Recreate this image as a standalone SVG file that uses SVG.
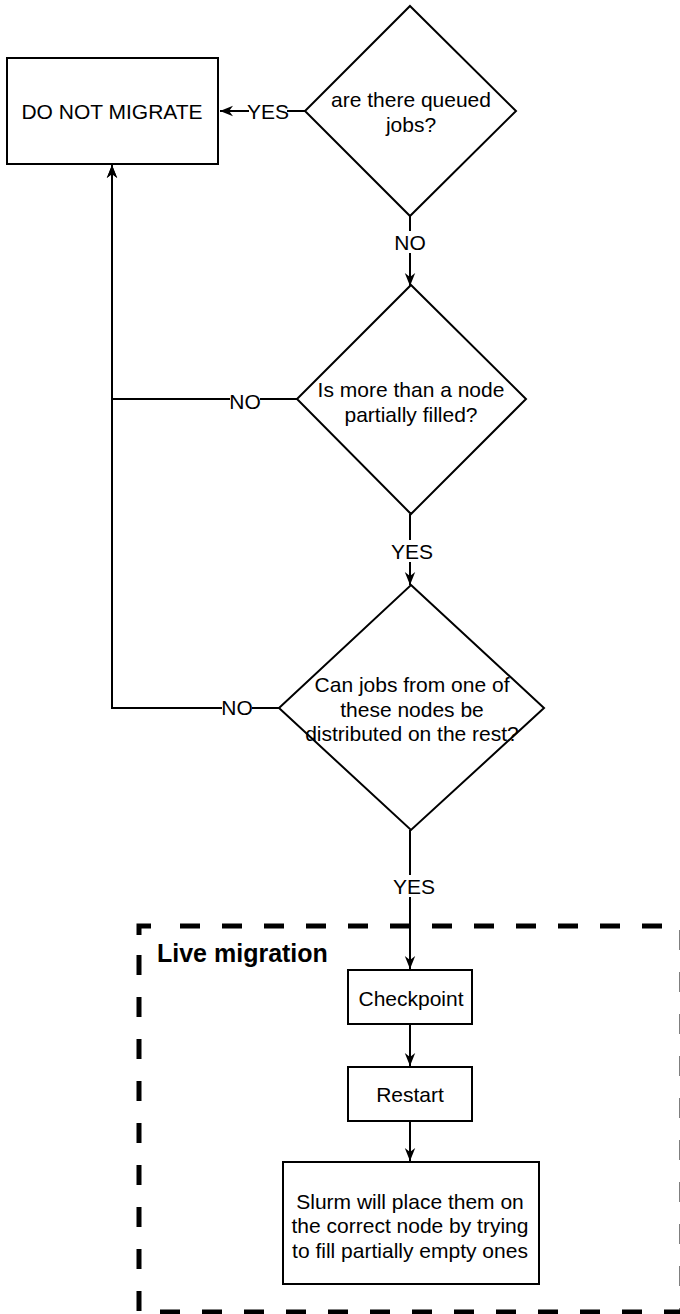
<svg xmlns="http://www.w3.org/2000/svg" width="680" height="1314" viewBox="0 0 680 1314">
<defs>
<style>
.shape{fill:#fff;stroke:#000;stroke-width:2}
.edge{fill:none;stroke:#000;stroke-width:2}
.t{font-family:"Liberation Sans",Arial,sans-serif;font-size:21px;fill:#000;text-anchor:middle}
.lbl{fill:#fff;stroke:none}
.dash{fill:none;stroke:#000;stroke-width:5;stroke-dasharray:20 22}
.title{font-family:"Liberation Sans",Arial,sans-serif;font-size:25px;font-weight:bold;fill:#000}
</style>
<marker id="arr" viewBox="0 0 10 10" refX="10" refY="5" markerWidth="13" markerHeight="13" markerUnits="userSpaceOnUse" orient="auto">
<path d="M0,1 L10,5 L0,9 L3,5 Z" fill="#000"/>
</marker>
</defs>

<g id="live-migration-group">
<path class="dash" d="M180 926 H682"/>
<path class="dash" d="M160 1312 H682"/>
<path class="dash" d="M682 930 V1314"/>
<path class="dash" d="M139 955 V1314"/>
<path d="M151 926 H139 V935" fill="none" stroke="#000" stroke-width="5"/>
<text class="title" x="157" y="962">Live migration</text>
</g>

<g id="connectors">
<path class="edge" d="M305 111 H220" marker-end="url(#arr)"/>
<path class="edge" d="M410 216 V286" marker-end="url(#arr)"/>
<path class="edge" d="M297 399 H112 V165" marker-end="url(#arr)"/>
<path class="edge" d="M410 514 V585" marker-end="url(#arr)"/>
<path class="edge" d="M279 708 H112 V165" marker-end="url(#arr)"/>
<path class="edge" d="M410 830 V969" marker-end="url(#arr)"/>
<path class="edge" d="M410 1024 V1066" marker-end="url(#arr)"/>
<path class="edge" d="M410 1121 V1161" marker-end="url(#arr)"/>
<rect class="lbl" x="249" y="100" width="38" height="22"/>
<text class="t" x="268" y="119">YES</text>
<rect class="lbl" x="395" y="231" width="30" height="22"/>
<text class="t" x="410" y="250">NO</text>
<rect class="lbl" x="230" y="390" width="30" height="22"/>
<text class="t" x="245" y="409">NO</text>
<rect class="lbl" x="393" y="540" width="38" height="22"/>
<text class="t" x="412" y="559">YES</text>
<rect class="lbl" x="222" y="697" width="30" height="22"/>
<text class="t" x="237" y="715">NO</text>
<rect class="lbl" x="395" y="875" width="38" height="22"/>
<text class="t" x="414" y="894">YES</text>
</g>

<g id="do-not-migrate">
<rect class="shape" x="7" y="58" width="211" height="106"/>
<text class="t" x="112" y="119">DO NOT MIGRATE</text>
</g>

<g id="queued-jobs">
<polygon class="shape" points="410,6 516,111 410,216 305,111"/>
<text class="t" x="411" y="107">are there queued</text>
<text class="t" x="411" y="132">jobs?</text>
</g>

<g id="partially-filled">
<polygon class="shape" points="411,285 526,399 411,514 297,399"/>
<text class="t" x="411" y="397">Is more than a node</text>
<text class="t" x="411" y="422">partially filled?</text>
</g>

<g id="can-distribute">
<polygon class="shape" points="411,585 544,708 411,830 279,708"/>
<text class="t" x="412" y="692">Can jobs from one of</text>
<text class="t" x="412" y="717">these nodes be</text>
<text class="t" x="412" y="741">distributed on the rest?</text>
</g>

<g id="checkpoint">
<rect class="shape" x="348" y="970" width="124" height="54"/>
<text class="t" x="411" y="1006">Checkpoint</text>
</g>

<g id="restart">
<rect class="shape" x="348" y="1067" width="124" height="54"/>
<text class="t" x="410" y="1102">Restart</text>
</g>

<g id="slurm">
<rect class="shape" x="283" y="1162" width="256" height="122"/>
<text class="t" x="410" y="1209">Slurm will place them on</text>
<text class="t" x="410" y="1233">the correct node by trying</text>
<text class="t" x="410" y="1258">to fill partially empty ones</text>
</g>
</svg>
